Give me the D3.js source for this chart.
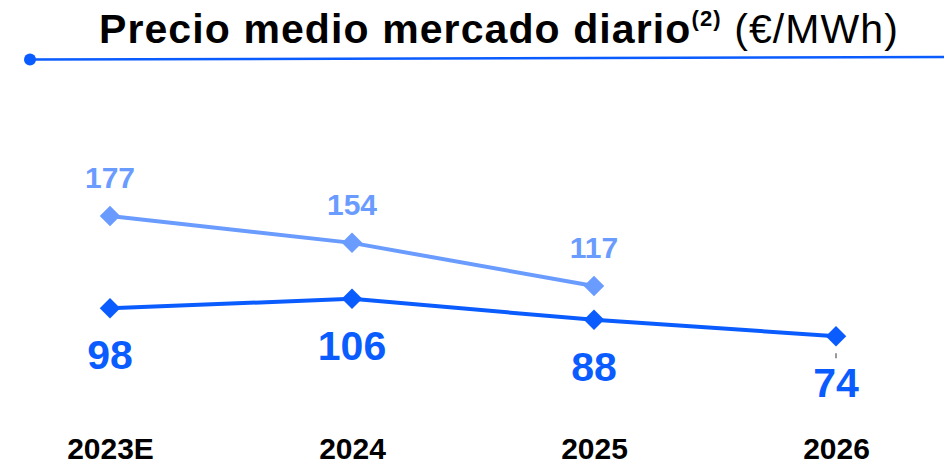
<!DOCTYPE html>
<html>
<head>
<meta charset="utf-8">
<script src="https://cdn.jsdelivr.net/npm/d3@7"></script>
<style>
  html, body { margin: 0; padding: 0; background: #fff; }
  svg { display: block; font-family: "Liberation Sans", Arial, sans-serif; }
</style>
</head>
<body>
<svg id="chart" width="944" height="465"></svg>
<script>
// Years on the x axis
const categories = ["2023E", "2024", "2025", "2026"];
// Futures price at the previous reference date (light line)
const previousValues = [177, 154, 117];
// Current futures price (dark line)
const currentValues = [98, 106, 88, 74];

const darkBlue = "#0a5cff";
const lightBlue = "#6a9bff";

const svg = d3.select("#chart");

const x = d3.scalePoint().domain(categories).range([110, 836]);
const y = d3.scaleLinear().domain([0, 200]).range([422.5, 189.2]);

// Title
const title = svg.append("text")
  .attr("x", 499).attr("y", 43)
  .attr("text-anchor", "middle")
  .attr("fill", "#000")
  .style("font-size", "41px")
  .style("letter-spacing", "1.1px");
title.append("tspan").attr("font-weight", "bold").text("Precio medio mercado diario");
title.append("tspan").attr("font-weight", "bold").attr("font-size", "22px").attr("dy", -17).text("(2)");
title.append("tspan").attr("font-weight", "normal").attr("dy", 17).text(" (€/MWh)");

// Title underline with round cap marker
svg.append("line")
  .attr("x1", 30).attr("y1", 59.5).attr("x2", 944).attr("y2", 57)
  .attr("stroke", darkBlue).attr("stroke-width", 2.5);
svg.append("circle").attr("cx", 30).attr("cy", 59.5).attr("r", 6).attr("fill", darkBlue);

const line = d3.line()
  .x((d, i) => x(categories[i]))
  .y(d => y(d));

const diamond = d3.symbol().type(d3.symbolSquare).size(210);

function drawSeries(values, color) {
  svg.append("path")
    .datum(values)
    .attr("d", line)
    .attr("fill", "none")
    .attr("stroke", color)
    .attr("stroke-width", 4);
  svg.selectAll(null)
    .data(values)
    .enter().append("path")
    .attr("d", diamond)
    .attr("transform", (d, i) => `translate(${x(categories[i])},${y(d)}) rotate(45)`)
    .attr("fill", color);
}

drawSeries(previousValues, lightBlue);
drawSeries(currentValues, darkBlue);

// Value labels
svg.selectAll(null)
  .data(previousValues)
  .enter().append("text")
  .attr("x", (d, i) => x(categories[i]))
  .attr("y", d => y(d) - 28)
  .attr("text-anchor", "middle")
  .attr("fill", lightBlue)
  .attr("font-weight", "bold")
  .style("font-size", "30px")
  .text(d => d);

svg.selectAll(null)
  .data(currentValues)
  .enter().append("text")
  .attr("x", (d, i) => x(categories[i]))
  .attr("y", d => y(d) + 61)
  .attr("text-anchor", "middle")
  .attr("fill", darkBlue)
  .attr("font-weight", "bold")
  .style("font-size", "41px")
  .text(d => d);

// Small leader tick above the last label
svg.append("line")
  .attr("x1", x("2026")).attr("x2", x("2026"))
  .attr("y1", y(74) + 17).attr("y2", y(74) + 22)
  .attr("stroke", "#555").attr("stroke-width", 1.2);

// Category axis
const xAxis = d3.axisBottom(x).tickSize(0).tickPadding(0);
const gx = svg.append("g").attr("transform", "translate(0,440)").call(xAxis);
gx.select(".domain").remove();
gx.selectAll("text")
  .attr("dy", 0).attr("y", 19)
  .attr("fill", "#000")
  .attr("font-weight", "bold")
  .style("font-size", "30px")
  .style("font-family", "\"Liberation Sans\", Arial, sans-serif");
</script>
</body>
</html>
